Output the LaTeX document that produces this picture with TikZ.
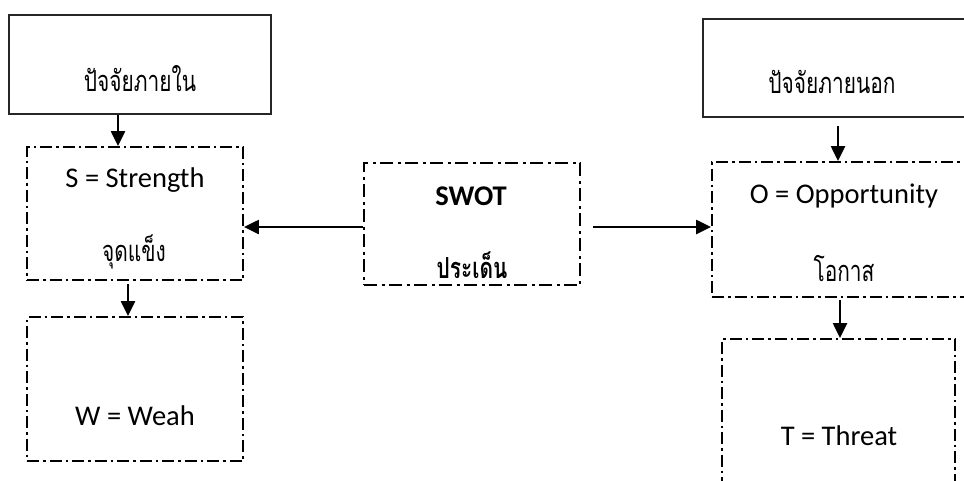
\documentclass[tikz,border=0pt]{standalone}
\usepackage{fontspec}
\setmainfont{Carlito}
\newfontfamily\thai[Script=Thai,FakeStretch=0.72]{Loma}
\usetikzlibrary{arrows.meta}
\begin{document}
\begin{tikzpicture}[x=1pt,y=-1pt,
  solidbox/.style={draw=black!85,line width=1.6pt,inner sep=0pt},
  dotbox/.style={draw,line width=1.9pt,inner sep=0pt,dash pattern=on 12pt off 4pt on 2.5pt off 4pt},
  swotbox/.style={draw,line width=2.9pt,inner sep=0pt,dash pattern=on 13pt off 4.5pt on 3pt off 4.5pt},
  lat/.style={inner sep=0pt,font=\fontsize{28.5}{30}\selectfont},
  th/.style={inner sep=0pt,font=\thai\fontsize{29}{31}\selectfont},
  arr/.style={line width=2.4pt,-{Triangle[length=15pt,width=14pt]}}]
\useasboundingbox (0,0) rectangle (964,480);
\clip (0,0) rectangle (964,480);
\fill[white] (0,0) rectangle (964,480);
% boxes
\node[solidbox,minimum width=262pt,minimum height=99pt] (in) at (140,64.5) {};
\node[solidbox,minimum width=277pt,minimum height=98pt] (out) at (841.5,68) {};
\node[dotbox,minimum width=216pt,minimum height=133pt] (S) at (135,213.5) {};
\node[dotbox,minimum width=216pt,minimum height=144pt] (W) at (135,389) {};
\node[swotbox,minimum width=216pt,minimum height=122pt] (sw) at (472,224) {};
\node[dotbox,minimum width=278pt,minimum height=135pt] (O) at (851,229.5) {};
\node[dotbox,minimum width=233pt,minimum height=161pt] (T) at (838.5,419.5) {};
% texts
\node[th] (tin) at (140,79) {ปัจจัยภายใน};
\node[th] (tout) at (832,82) {ปัจจัยภายนอก};
\node[lat] (ts) at (135,180) {S = Strength};
\node[th] (ts2) at (134,252) {จุดแข็ง};
\node[lat] (tw) at (135,416) {W = Weah};
\node[lat,font=\bfseries\fontsize{28.5}{30}\selectfont] (tsw) at (471,196) {SWOT};
\node[th,font=\thai\bfseries\fontsize{29}{31}\selectfont] (tsw2) at (472,265) {ประเด็น};
\node[lat] (to) at (844,196) {O = Opportunity};
\node[th] (to2) at (844,269) {โอกาส};
\node[lat] (tt) at (839,436) {T = Threat};
% arrows
\draw[arr] (in.south -| 118,0) -- (S.north -| 118,0);
\draw[arr] ([yshift=-3pt]S.south -| 128,0) -- (W.north -| 128,0);
\draw[arr] (sw.west |- 0,227) -- (S.east |- 0,227);
\draw[arr] ([xshift=12pt]sw.east |- 0,227) -- (O.west |- 0,227);
\draw[arr] ([yshift=-8pt]out.south -| 838,0) -- (O.north -| 838,0);
\draw[arr] ([yshift=-2pt]O.south -| 840,0) -- (T.north -| 840,0);
\end{tikzpicture}
\end{document}
